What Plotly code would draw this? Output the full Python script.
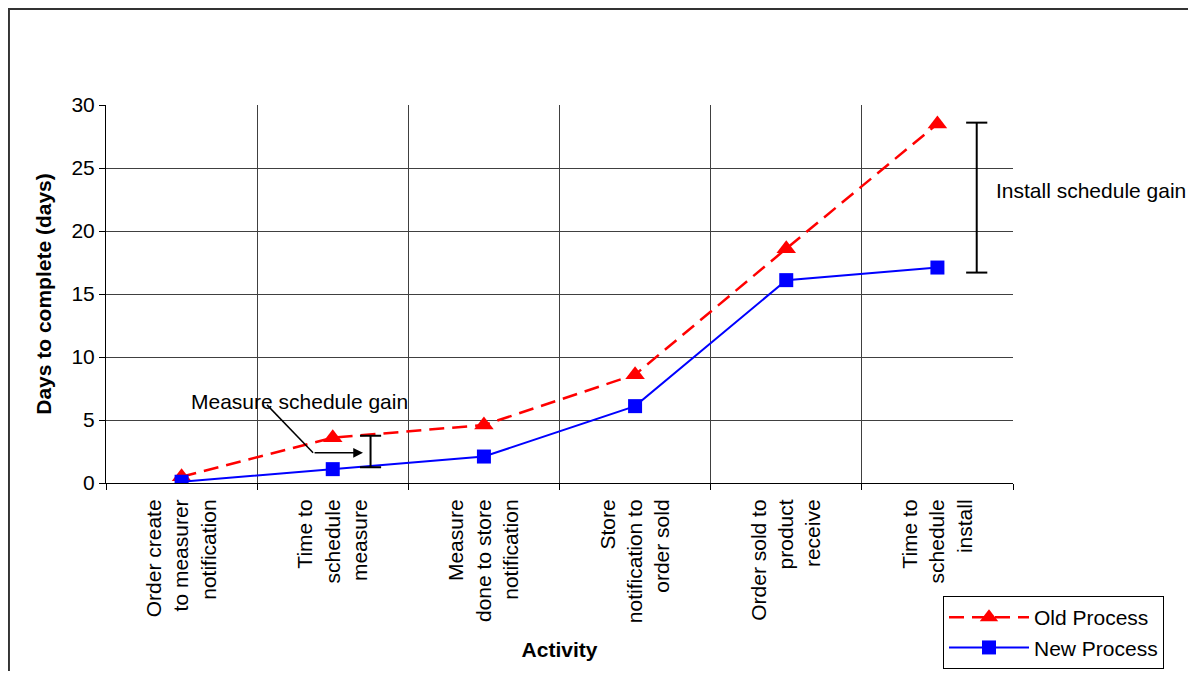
import plotly.graph_objects as go

categories = [
    "Order create<br>to measurer<br>notification",
    "Time to<br>schedule<br>measure",
    "Measure<br>done to store<br>notification",
    "Store<br>notification to<br>order sold",
    "Order sold to<br>product<br>receive",
    "Time to<br>schedule<br>install",
]
old_process = [0.5, 3.6, 4.6, 8.6, 18.6, 28.5]
new_process = [0.1, 1.1, 2.1, 6.1, 16.1, 17.1]

# gain markers: (x position in category units, low, high)
measure_gain = (1.25, 1.25, 3.75)
install_gain = (5.26, 16.7, 28.6)

FONT = "Liberation Sans, Arial, sans-serif"
FS = 21

fig = go.Figure()
fig.add_trace(go.Scatter(
    x=categories, y=old_process, name="Old Process", mode="lines+markers",
    line=dict(color="#ff0000", width=2.5, dash="15px,8px"),
    marker=dict(symbol="triangle-up", size=17, color="#ff0000"),
))
fig.add_trace(go.Scatter(
    x=categories, y=new_process, name="New Process", mode="lines+markers",
    line=dict(color="#0000ff", width=2),
    marker=dict(symbol="square", size=14, color="#0000ff"),
))

shapes = []
for (gx, lo, hi) in (measure_gain, install_gain):
    shapes.append(dict(type="line", xref="x", yref="y", x0=gx, x1=gx, y0=lo, y1=hi,
                       line=dict(color="black", width=2)))
    for yy in (lo, hi):
        shapes.append(dict(type="line", xref="x", yref="y", x0=gx - 0.07, x1=gx + 0.07,
                           y0=yy, y1=yy, line=dict(color="black", width=2)))
# leader line from text to elbow
shapes.append(dict(type="line", xref="x", yref="y", x0=0.565, y0=6.2, x1=0.87, y1=2.4,
                   line=dict(color="black", width=1.5)))
# outer chart border
shapes.append(dict(type="rect", xref="paper", yref="paper", x0=-0.107, x1=1.195,
                   y0=-0.7, y1=1.254, line=dict(color="#333333", width=2), layer="below"))

annotations = [
    dict(x=0.78, y=6.5, xref="x", yref="y", text="Measure schedule gain", showarrow=False,
         xanchor="center", font=dict(size=FS, color="black", family=FONT)),
    dict(x=1.2, y=2.4, xref="x", yref="y", ax=0.87, ay=2.4, axref="x", ayref="y",
         text="", showarrow=True, arrowhead=2, arrowsize=1.3, arrowwidth=1.5, arrowcolor="black",
         standoff=0),
    dict(x=1.086, y=23.2, xref="paper", yref="y", text="Install schedule gain", showarrow=False,
         xanchor="center", font=dict(size=FS, color="black", family=FONT)),
]

W, H = 1188, 663  # page body adds an 8px margin
fig.update_layout(
    width=W, height=H,
    margin=dict(l=98, r=W - 1005, t=97, b=H - 475, autoexpand=False),
    paper_bgcolor="white", plot_bgcolor="white",
    font=dict(family=FONT, size=FS, color="black"),
    shapes=shapes, annotations=annotations,
    legend=dict(xref="container", yref="container", x=935 / W, y=1 - 588 / H,
                xanchor="left", yanchor="top",
                bgcolor="white", bordercolor="black", borderwidth=1,
                itemwidth=80,
                font=dict(size=FS, family=FONT), tracegroupgap=0),
    xaxis=dict(
        type="category", tickson="boundaries", tickangle=-90,
        showgrid=True, gridcolor="#404040", gridwidth=1,
        showline=True, linecolor="black", linewidth=1, mirror=False,
        ticks="outside", ticklen=6, tickcolor="black", ticklabelstandoff=7,
        range=[-0.5, 5.5],
        title=dict(text="<b>Activity</b>", font=dict(size=FS, family=FONT), standoff=20),
    ),
    yaxis=dict(
        range=[0, 30], dtick=5, showgrid=True, gridcolor="#404040", gridwidth=1,
        showline=True, linecolor="black", linewidth=1,
        ticks="outside", ticklen=6, tickcolor="black",
        zeroline=False,
        title=dict(text="<b>Days to complete (days)</b>", font=dict(size=FS, family=FONT), standoff=14),
    ),
    showlegend=True,
)

fig.write_html("out.html")
